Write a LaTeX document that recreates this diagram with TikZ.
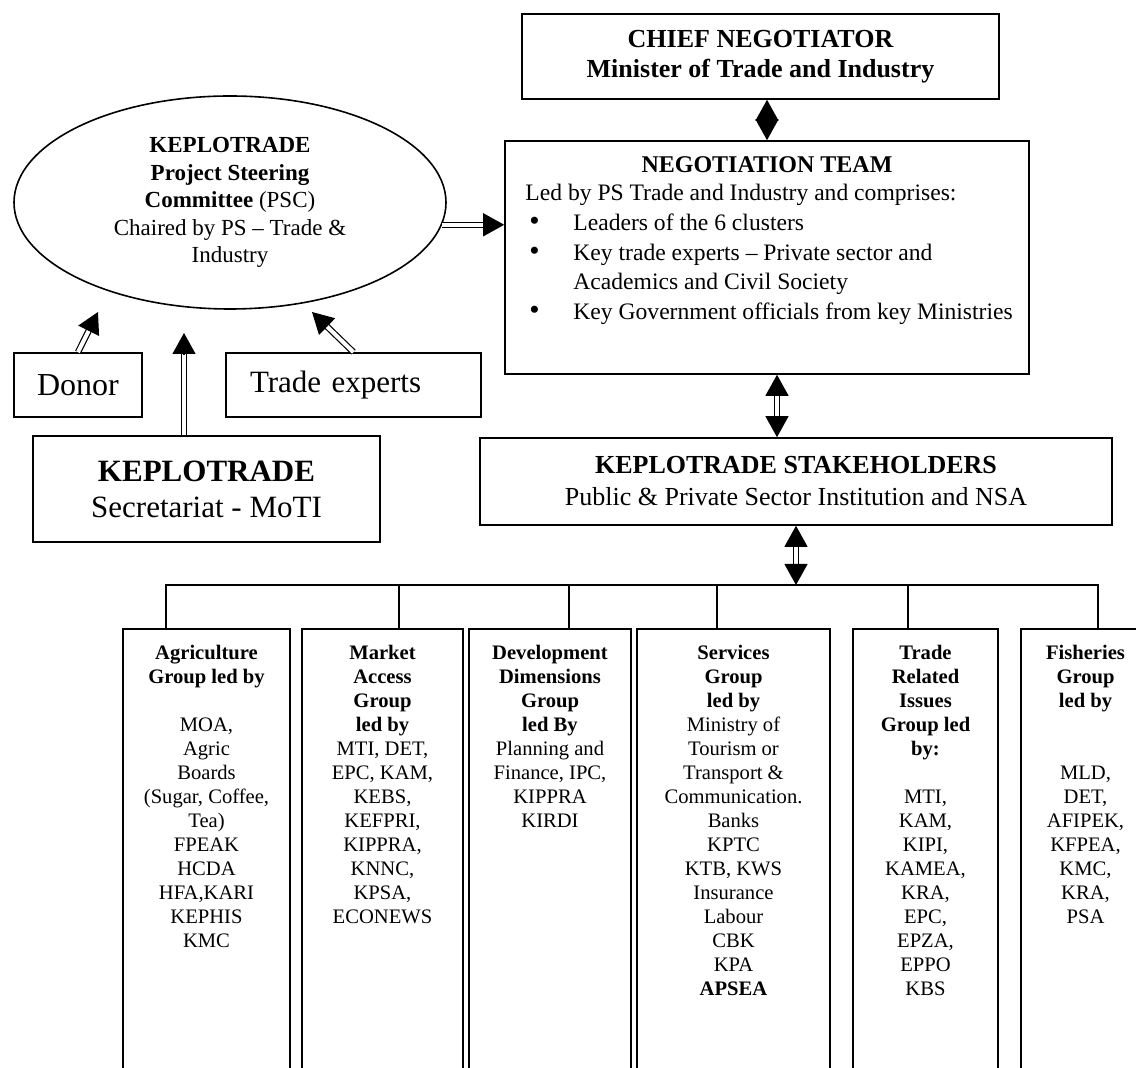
\documentclass[tikz,border=0pt]{standalone}
\usepackage{graphicx}
\usepackage{fontspec}
\setmainfont{Liberation Serif}
\usetikzlibrary{arrows.meta,calc,shapes.geometric}

\begin{document}
\begin{tikzpicture}[x=0.5pt,y=-0.5pt,
        box/.style={draw, line width=0.8pt, rectangle, inner sep=0pt},
        grp/.style={draw, line width=0.8pt, rectangle, inner sep=0pt,
            anchor=north, minimum height=240pt},
        grptxt/.style={anchor=north, inner sep=0pt, align=center,
            font=\fontsize{10.3}{12}\selectfont},
        shaft/.style={double, double distance=2pt, line width=0.6pt},
        tip/.style={-{Triangle[length=10.5pt,width=11.5pt]}, line width=0.6pt},
        bus/.style={line width=0.7pt}]

    \useasboundingbox (0,0) rectangle (1136,1068);
    \clip (0,0) rectangle (1136,1068);

    % Chief negotiator
    \node[box, minimum width=238.5pt, minimum height=42.5pt, align=center,
        font=\bfseries\fontsize{13}{15}\selectfont] (chief) at (760.5,56.5)
        {CHIEF NEGOTIATOR\\Minister of Trade and Industry};

    % Negotiation team
    \node[box, minimum width=262pt, minimum height=116.5pt] (negteam) at (767,257.5) {};
    \node[inner sep=0pt, font=\bfseries\fontsize{12}{15}\selectfont] (negtitle)
        at (767,165) {NEGOTIATION TEAM};
    \node[anchor=north west, inner sep=0pt, align=left,
        font=\fontsize{11.8}{14.85}\selectfont] (negbody) at (525,184)
        {Led by PS Trade and Industry and comprises:\\
         \hspace*{2pt}\makebox[22pt][l]{\scalebox{1.25}{\textbullet}}Leaders of the 6 clusters\\
         \hspace*{2pt}\makebox[22pt][l]{\scalebox{1.25}{\textbullet}}Key trade experts -- Private sector and\\
         \hspace*{24pt}Academics and Civil Society\\
         \hspace*{2pt}\makebox[22pt][l]{\scalebox{1.25}{\textbullet}}Key Government officials from key Ministries};

    % chief <-> team
    \draw[{Triangle[length=10.5pt,width=11.5pt]}-{Triangle[length=10.5pt,width=11.5pt]},
        line width=0.6pt] (chief.south -| negteam.north) -- (negteam.north);

    % Steering committee
    \node[ellipse, draw, line width=0.8pt, minimum width=216pt, minimum height=106.5pt,
        inner sep=0pt, align=center, font=\fontsize{11.5}{13.75}\selectfont] (psc)
        at (230,202.5)
        {\textbf{KEPLOTRADE}\\\textbf{Project Steering}\\\textbf{Committee} (PSC)\\
         Chaired by PS -- Trade \&\\Industry};

    % PSC -> team
    \coordinate (pscend) at (psc.-6.65 -| negteam.west);
    \draw[shaft, shorten >=9.5pt] (psc.-6.65) -- (pscend);
    \draw[tip] ($(pscend)!10.5pt!(psc.-6.65)$) -- (pscend);

    % Donor and trade experts
    \node[box, minimum width=64pt, minimum height=32pt,
        font=\fontsize{16}{19}\selectfont] (donor) at (78,385) {Donor};
    \node[box, minimum width=127.5pt, minimum height=32pt, text width=103.5pt,
        inner xsep=12pt, align=left, font=\fontsize{15.5}{18}\selectfont] (texp)
        at (353.5,385) {Trade experts};

    % Secretariat
    \node[box, minimum width=173.5pt, minimum height=53pt, align=center,
        font=\fontsize{15.5}{18}\selectfont] (sec) at (206.5,489)
        {\textbf{KEPLOTRADE}\\Secretariat - MoTI};

    % arrows up to the PSC
    \coordinate (donortip) at (98,312);
    \coordinate (sectip) at (184,333);
    \coordinate (texptip) at (312,312);
    \draw[shaft, shorten >=9.5pt] (donor.north) -- (donortip);
    \draw[tip] ($(donortip)!10.5pt!(donor.north)$) -- (donortip);
    \draw[shaft, shorten >=9.5pt] (sectip |- sec.north) -- (sectip);
    \draw[tip] ($(sectip)!10.5pt!(sectip |- sec.north)$) -- (sectip);
    \draw[shaft, shorten >=9.5pt] (texp.north) -- (texptip);
    \draw[tip] ($(texptip)!10.5pt!(texp.north)$) -- (texptip);

    % Stakeholders
    \node[box, minimum width=316pt, minimum height=43.5pt, align=center,
        font=\fontsize{13}{16}\selectfont] (stake) at (796,481.5)
        {\textbf{KEPLOTRADE STAKEHOLDERS}\\Public \& Private Sector Institution and NSA};

    % team <-> stakeholders
    \coordinate (nstop) at ($(negteam.south)+(10,0)$);
    \coordinate (nsbot) at (nstop |- stake.north);
    \draw[shaft, shorten <=9.5pt, shorten >=9.5pt] (nstop) -- (nsbot);
    \draw[tip] ($(nstop)!10.5pt!(nsbot)$) -- (nstop);
    \draw[tip] ($(nsbot)!10.5pt!(nstop)$) -- (nsbot);

    % Groups
    \node[grp, minimum width=83.5pt] (agri) at (206.5,628) {};
    \node[grp, minimum width=80.5pt] (mkt) at (382.5,628) {};
    \node[grp, minimum width=81pt] (dev) at (550,628) {};
    \node[grp, minimum width=96.5pt] (serv) at (733.5,628) {};
    \node[grp, minimum width=72.5pt] (trade) at (925.5,628) {};
    \node[grp, minimum width=64.5pt] (fish) at (1085.5,628) {};

    \node[grptxt] (agritxt) at (206.5,645)
        {\textbf{Agriculture}\\\textbf{Group led by}\\[12pt]MOA,\\Agric\\Boards\\
         (Sugar, Coffee,\\Tea)\\FPEAK\\HCDA\\HFA,KARI\\KEPHIS\\KMC};
    \node[grptxt] (mkttxt) at (382.5,645)
        {\textbf{Market}\\\textbf{Access}\\\textbf{Group}\\\textbf{led by}\\
         MTI, DET,\\EPC, KAM,\\KEBS,\\KEFPRI,\\KIPPRA,\\KNNC,\\KPSA,\\ECONEWS};
    \node[grptxt] (devtxt) at (550,645)
        {\textbf{Development}\\\textbf{Dimensions}\\\textbf{Group}\\\textbf{led By}\\
         Planning and\\Finance, IPC,\\KIPPRA\\KIRDI};
    \node[grptxt] (servtxt) at (733.5,645)
        {\textbf{Services}\\\textbf{Group}\\\textbf{led by}\\Ministry of\\Tourism or\\
         Transport \&\\Communication.\\Banks\\KPTC\\KTB, KWS\\Insurance\\Labour\\
         CBK\\KPA\\\textbf{APSEA}};
    \node[grptxt] (tradetxt) at (925.5,645)
        {\textbf{Trade}\\\textbf{Related}\\\textbf{Issues}\\\textbf{Group led}\\
         \textbf{by:}\\[12pt]MTI,\\KAM,\\KIPI,\\KAMEA,\\KRA,\\EPC,\\EPZA,\\EPPO\\KBS};
    \node[grptxt] (fishtxt) at (1085.5,645)
        {\textbf{Fisheries}\\\textbf{Group}\\\textbf{led by}\\[24pt]
         MLD,\\DET,\\AFIPEK,\\KFPEA,\\KMC,\\KRA,\\PSA};

    % bus to the groups
    \coordinate (bus) at (796,585);
    \draw[bus] (agri.north -| 166,0) |- (bus) -| (fish.north -| 1098,0);
    \draw[bus] (mkt.north -| 399,0) -- (bus -| 399,0);
    \draw[bus] (dev.north -| 569,0) -- (bus -| 569,0);
    \draw[bus] (serv.north -| 717,0) -- (bus -| 717,0);
    \draw[bus] (trade.north -| 908,0) -- (bus -| 908,0);

    % stakeholders <-> groups
    \coordinate (sgtop) at (stake.south);
    \coordinate (sgbot) at (stake.south |- bus);
    \draw[shaft, shorten <=9.5pt, shorten >=9.5pt] (sgtop) -- (sgbot);
    \draw[tip] ($(sgtop)!10.5pt!(sgbot)$) -- (sgtop);
    \draw[tip] ($(sgbot)!10.5pt!(sgtop)$) -- (sgbot);

\end{tikzpicture}
\end{document}
